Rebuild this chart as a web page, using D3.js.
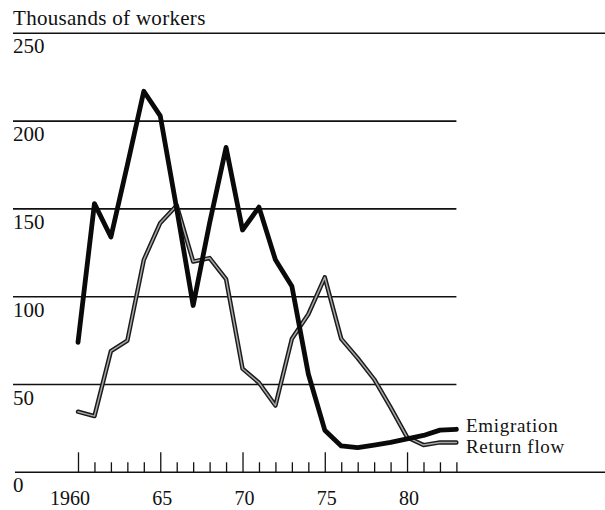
<!DOCTYPE html>
<html>
<head>
<meta charset="utf-8">
<script src="https://cdn.jsdelivr.net/npm/d3@7"></script>
<style>
  body { margin: 0; background: #fff; }
  text { font-family: "Liberation Serif", "DejaVu Serif", serif; fill: #111; }
</style>
</head>
<body>
<script>
// data (thousands of workers)
var years = [1960,1961,1962,1963,1964,1965,1966,1967,1968,1969,1970,1971,
             1972,1973,1974,1975,1976,1977,1978,1979,1980,1981,1982,1983];
var emigration = [74,153,134,175,217,203,150,95,142,185,138,151,
                  121,106,56,24,15,14,15.5,17,19,21,24,24.5];
var returnFlow = [34.5,32,69,75,121,142,152,120,122,110,59,51,
                  38,76,90,111,76,65,53,37,20,15.5,17,17];
var yTicks = [0,50,100,150,200,250];
var yearLabels = [[1960,"1960"],[1965,"65"],[1970,"70"],[1975,"75"],[1980,"80"]];

var W = 605, H = 510;
var svg = d3.select("body").append("svg").attr("width", W).attr("height", H);

var x = d3.scaleLinear().domain([1960, 1983]).range([78, 456.4]);
var y = d3.scaleLinear().domain([0, 250]).range([472.3, 33.3]);

// title
svg.append("text").attr("x", 13).attr("y", 25)
   .style("font-size", "21px").style("letter-spacing", "0.3px")
   .text("Thousands of workers");

// horizontal rules, top one and baseline run to the edge
svg.selectAll(".grid").data(yTicks).enter().append("line")
   .attr("class", "grid")
   .attr("x1", function(d){ return d == 0 ? 15 : 13; })
   .attr("x2", function(d){ return (d == 0 || d == 250) ? W : x(1983); })
   .attr("y1", function(d){ return y(d); })
   .attr("y2", function(d){ return y(d); })
   .attr("stroke", "#111").attr("stroke-width", 1.6);

// labels under each rule
svg.selectAll(".ylab").data(yTicks).enter().append("text")
   .attr("class", "ylab")
   .attr("x", 13).attr("y", function(d){ return y(d) + 20; })
   .style("font-size", "21px")
   .text(function(d){ return d; });

// year ticks: short every year, long every five
var base = svg.append("g").attr("transform", "translate(0," + y(0) + ")");
base.append("g")
   .call(d3.axisTop(x).tickValues(years.filter(function(d){ return d % 5 != 0; }))
         .tickSize(10).tickFormat(""))
   .call(function(g){ g.select(".domain").remove(); })
   .selectAll("line").attr("stroke", "#111").attr("stroke-width", 1.3);
base.append("g")
   .call(d3.axisTop(x).tickValues(years.filter(function(d){ return d % 5 == 0; }))
         .tickSize(20).tickFormat(""))
   .call(function(g){ g.select(".domain").remove(); })
   .selectAll("line").attr("stroke", "#111").attr("stroke-width", 1.3);

svg.selectAll(".xlab").data(yearLabels).enter().append("text")
   .attr("class", "xlab")
   .attr("x", function(d){ return x(d[0]) + (d[0] == 1960 ? -8 : 2); })
   .attr("y", 505)
   .attr("text-anchor", "middle")
   .style("font-size", "20px")
   .text(function(d){ return d[1]; });

var line = d3.line()
   .x(function(d, i){ return x(years[i]); })
   .y(function(d){ return y(d); });

// return flow: outlined grey line
svg.append("path").datum(returnFlow)
   .attr("d", line).attr("fill", "none")
   .attr("stroke", "#1a1a1a").attr("stroke-width", 4.4)
   .attr("stroke-linejoin", "round").attr("stroke-linecap", "round");
svg.append("path").datum(returnFlow)
   .attr("d", line).attr("fill", "none")
   .attr("stroke", "#a8a8a8").attr("stroke-width", 1.5)
   .attr("stroke-linejoin", "round").attr("stroke-linecap", "round");

// emigration: heavy black line
svg.append("path").datum(emigration)
   .attr("d", line).attr("fill", "none")
   .attr("stroke", "#0a0a0a").attr("stroke-width", 4.8)
   .attr("stroke-linejoin", "round").attr("stroke-linecap", "round");

// line labels at the right end
svg.append("text").attr("x", 466).attr("y", 432)
   .style("font-size", "19px").style("letter-spacing", "0.7px").text("Emigration");
svg.append("text").attr("x", 466).attr("y", 453)
   .style("font-size", "19px").style("letter-spacing", "0.7px").text("Return flow");
</script>
</body>
</html>
